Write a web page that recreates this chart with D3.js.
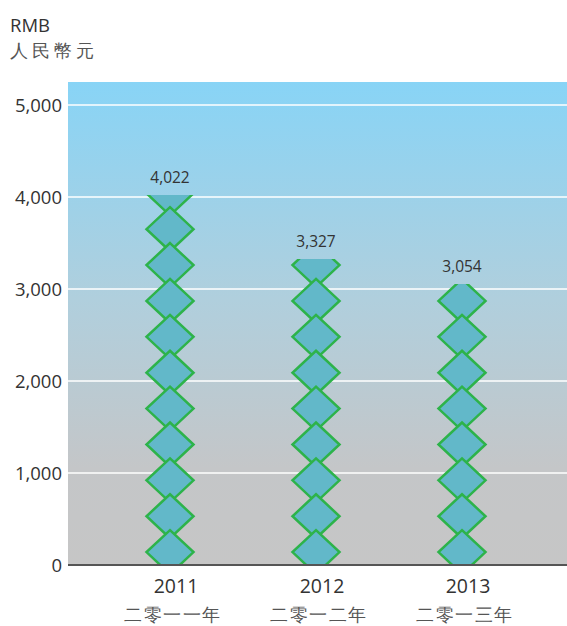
<!DOCTYPE html>
<html>
<head>
<meta charset="utf-8">
<script src="https://cdn.jsdelivr.net/npm/d3@7"></script>
<style>
  body { margin: 0; background: #fff; }
  text { font-family: "Open Sans", "Noto Sans", sans-serif; }
</style>
</head>
<body>
<svg id="chart"></svg>
<script>
// data
const years = ["2011", "2012", "2013"];
const yearsZh = ["二零一一年", "二零一二年", "二零一三年"];
const values = [4022, 3327, 3054];
const valueLabels = ["4,022", "3,327", "3,054"];
const yTicks = [0, 1000, 2000, 3000, 4000, 5000];

const W = 567, H = 626;
const plotLeft = 68, plotRight = 567, plotTop = 82, plotBottom = 565;

const svg = d3.select("#chart").attr("width", W).attr("height", H);

const y = d3.scaleLinear().domain([0, 5000]).range([plotBottom, 105]);
const x = d3.scalePoint().domain(years).range([170, 462]);

// background gradient
const defs = svg.append("defs");
const grad = defs.append("linearGradient")
  .attr("id", "bg").attr("x1", 0).attr("y1", 0).attr("x2", 0).attr("y2", 1);
grad.append("stop").attr("offset", "0%").attr("stop-color", "#88d4f6");
grad.append("stop").attr("offset", "45%").attr("stop-color", "#b0cfdd");
grad.append("stop").attr("offset", "80%").attr("stop-color", "#c4c6c8");
grad.append("stop").attr("offset", "100%").attr("stop-color", "#c6c6c6");

svg.append("rect")
  .attr("x", plotLeft).attr("y", plotTop)
  .attr("width", plotRight - plotLeft).attr("height", plotBottom - plotTop)
  .attr("fill", "url(#bg)");

// grid
svg.append("g").selectAll("line")
  .data(yTicks.filter(d => d > 0))
  .enter().append("line")
  .attr("x1", plotLeft).attr("x2", plotRight)
  .attr("y1", d => y(d)).attr("y2", d => y(d))
  .attr("stroke", "#fff").attr("stroke-width", 1.5);

// y tick labels
svg.append("g").selectAll("text")
  .data(yTicks)
  .enter().append("text")
  .attr("x", 62).attr("y", d => y(d) + 6.5)
  .attr("text-anchor", "end")
  .attr("font-size", 18.5).attr("fill", "#333")
  .text(d => d3.format(",")(d));

// diamond stacks, clipped to each value
const halfW = 23.5, halfH = 22;
const step = 390;   // value units between diamond centres
const first = 140;

years.forEach((yr, i) => {
  const cx = x(yr);
  defs.append("clipPath").attr("id", "clip" + i)
    .append("rect")
    .attr("x", cx - 40).attr("y", y(values[i]))
    .attr("width", 80).attr("height", plotBottom - y(values[i]));

  // top to bottom, so each lower diamond sits over the one above it
  const centers = d3.range(first, values[i] + step, step)
    .filter(v => y(v) + halfH > y(values[i]))
    .reverse();

  const g = svg.append("g").attr("clip-path", `url(#clip${i})`);
  g.selectAll("path").data(centers).enter().append("path")
    .attr("d", c => {
      const cy = y(c);
      return `M${cx},${cy - halfH}L${cx + halfW},${cy}L${cx},${cy + halfH}L${cx - halfW},${cy}Z`;
    })
    .attr("fill", "#62b8c9")
    .attr("stroke", "#2db34a")
    .attr("stroke-width", 2.5);

  svg.append("text")
    .attr("x", cx).attr("y", y(values[i]) - 12)
    .attr("text-anchor", "middle")
    .attr("font-size", 15.5).attr("fill", "#333")
    .text(valueLabels[i]);
});

// x axis line
svg.append("line")
  .attr("x1", plotLeft).attr("x2", plotRight)
  .attr("y1", plotBottom).attr("y2", plotBottom)
  .attr("stroke", "#555").attr("stroke-width", 2);

// x labels
svg.append("g").selectAll("text")
  .data(years)
  .enter().append("text")
  .attr("x", d => x(d) + 6).attr("y", 593)
  .attr("text-anchor", "middle")
  .attr("font-size", 19.5).attr("fill", "#333")
  .text(d => d);

svg.append("g").selectAll("text")
  .data(yearsZh)
  .enter().append("text")
  .attr("x", (d, i) => x(years[i]) + 3).attr("y", 621)
  .attr("text-anchor", "middle")
  .attr("font-size", 18).attr("fill", "#555")
  .attr("letter-spacing", 1.5)
  .attr("font-family", "'Noto Sans CJK TC', sans-serif")
  .attr("font-weight", 300)
  .text(d => d);

// unit title
svg.append("text")
  .attr("x", 10).attr("y", 32)
  .attr("font-size", 18.5).attr("fill", "#333")
  .text("RMB");
svg.append("text")
  .attr("x", 10).attr("y", 57)
  .attr("font-size", 18).attr("fill", "#555")
  .attr("letter-spacing", 4)
  .attr("font-family", "'Noto Sans CJK TC', sans-serif")
  .attr("font-weight", 300)
  .text("人民幣元");
</script>
</body>
</html>
